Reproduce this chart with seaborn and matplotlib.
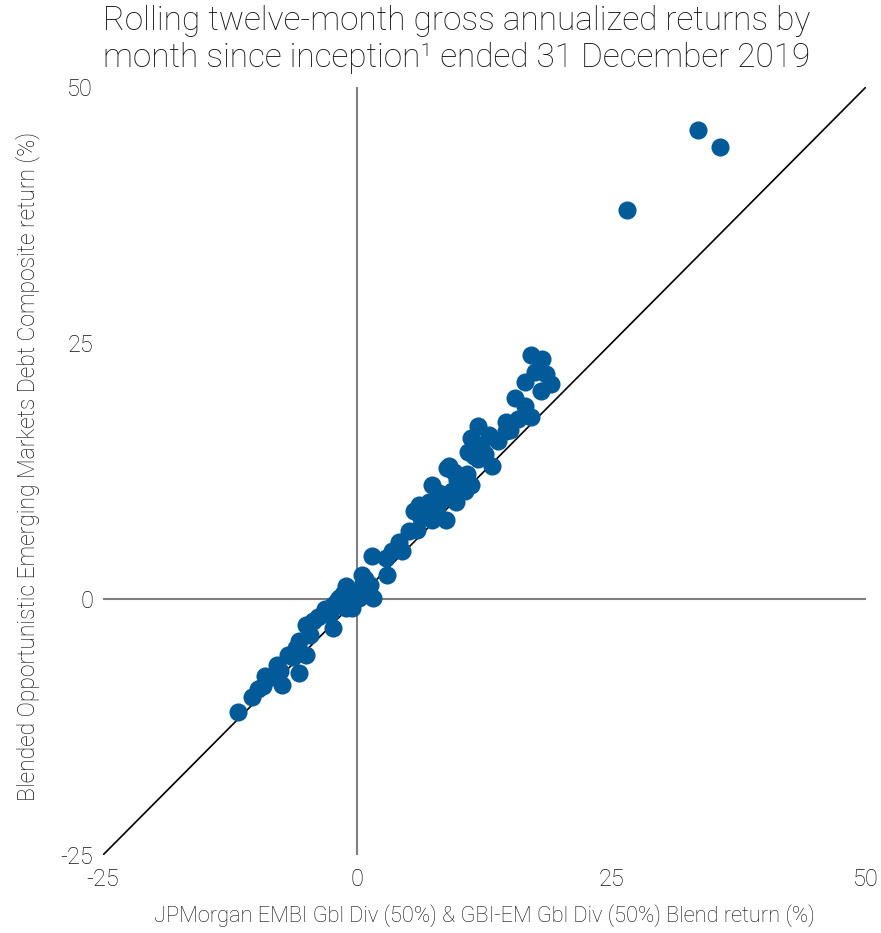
import pandas as pd
import seaborn as sns
import matplotlib.pyplot as plt

# Rolling 12-month returns (%)
blend_ret = [33.5, 35.6, 26.5,
             17.1, 18.2, 17.5, 18.5, 19.0, 16.5, 18.1, 15.5, 16.5, 17.1, 14.6, 15.0, 15.8,
             11.9, 12.9, 11.2, 12.2, 14.6, 10.9, 13.2, 11.9, 9.0, 12.5, 13.8, 11.5,
             8.8, 7.3, 6.1, 5.6, 8.7, 7.3, 9.7, 10.6, 11.2, 9.3, 8.3, 7.0, 6.3, 5.9, 5.1,
             10.2, 9.8, 8.0, 6.8, 7.8, 10.8, 9.5,
             4.1, 4.4, 3.4, 1.4, 2.8, 2.9, 0.5, 1.2, 1.5, 0.8, 0.3, 0.6, 1.0,
             -1.1, -0.1, -1.8, -2.4, -1.1, -3.0, -2.4, -5.0, -3.9, -1.8, -0.5, 0.2, -4.4,
             -5.7, -5.0, -6.8, -5.7, -7.6, -9.1, -9.3, -7.4, -10.4, -11.7, -6.3, -7.9,
             -3.4, -2.0, -1.4, -0.8, -4.7, -6.0, -8.5, -9.8, -3.2, -2.7]
composite_ret = [45.8, 44.1, 38.0,
                 23.8, 23.4, 22.2, 22.0, 21.0, 21.2, 20.3, 19.6, 18.8, 17.8, 17.3, 16.5, 17.6,
                 16.9, 16.0, 15.7, 15.0, 16.4, 14.4, 13.0, 13.7, 13.0, 14.2, 15.4, 14.0,
                 12.8, 11.1, 9.2, 8.6, 7.7, 7.7, 9.5, 10.5, 11.1, 10.5, 9.8, 9.5, 7.9, 6.7, 6.6,
                 10.6, 11.6, 10.4, 8.4, 8.9, 12.2, 12.4,
                 5.6, 4.7, 4.7, 4.2, 4.0, 2.3, 2.3, 1.4, 0.1, 2.0, 1.0, 1.6, 0.6,
                 1.3, 0.4, 0.1, -0.6, -0.9, -1.2, -2.8, -2.5, -1.8, -0.6, -0.9, 0.1, -2.1,
                 -4.1, -5.5, -5.5, -7.2, -7.0, -7.5, -8.5, -8.4, -9.6, -11.0, -5.7, -6.4,
                 -1.5, -0.2, 0.5, -0.3, -3.5, -4.8, -7.6, -8.8, -1.0, -1.5]

ticks = [-25, 0, 25, 50]
title = "Rolling twelve-month gross annualized returns by\nmonth since inception\u00b9 ended 31 December 2019"
xlabel = "JPMorgan EMBI Gbl Div (50%) & GBI-EM Gbl Div (50%) Blend return (%)"
ylabel = "Blended Opportunistic Emerging Markets Debt Composite return (%)"

df = pd.DataFrame({"blend": blend_ret, "composite": composite_ret})

sns.set_style("white")
plt.rcParams["font.family"] = ["Roboto", "DejaVu Sans"]
plt.rcParams["font.weight"] = "light"
plt.rcParams["axes.labelweight"] = "light"

fig = plt.figure(figsize=(8.81, 9.33), dpi=100)
ax = fig.add_axes([103 / 881, 1 - 855 / 933, (866 - 103) / 881, (855 - 87) / 933])

ax.axvline(0, color="#7f7f7f", lw=1.5, zorder=1)
ax.axhline(0, color="#7f7f7f", lw=1.5, zorder=1)
ax.plot([-25, 50], [-25, 50], color="black", lw=1.2, zorder=2)

sns.scatterplot(data=df, x="blend", y="composite", ax=ax, s=170,
                color="#035a98", linewidth=0, zorder=3)

ax.set_xlim(-25, 50)
ax.set_ylim(-25, 50)
ax.set_xticks(ticks)
ax.set_yticks(ticks)
ax.set_xticklabels([str(t) for t in ticks], fontsize=17, color="#111111")
ax.set_yticklabels([str(t) for t in ticks], fontsize=17, color="#111111")
ax.tick_params(axis="x", length=0, pad=9)
ax.tick_params(axis="y", length=0, pad=7)
sns.despine(ax=ax, left=True, bottom=True)
ax.set_xlabel(xlabel, fontsize=15.7, color="#111111")
ax.set_ylabel(ylabel, fontsize=16.5, color="#111111")
ax.xaxis.set_label_coords(0.5, -0.064)
ax.yaxis.set_label_coords(-0.082, 0.506)

fig.text(103 / 881, 0.995, title, fontsize=24, va="top", ha="left",
         color="#111111", linespacing=1.2)

plt.savefig("out.png", dpi=100)
